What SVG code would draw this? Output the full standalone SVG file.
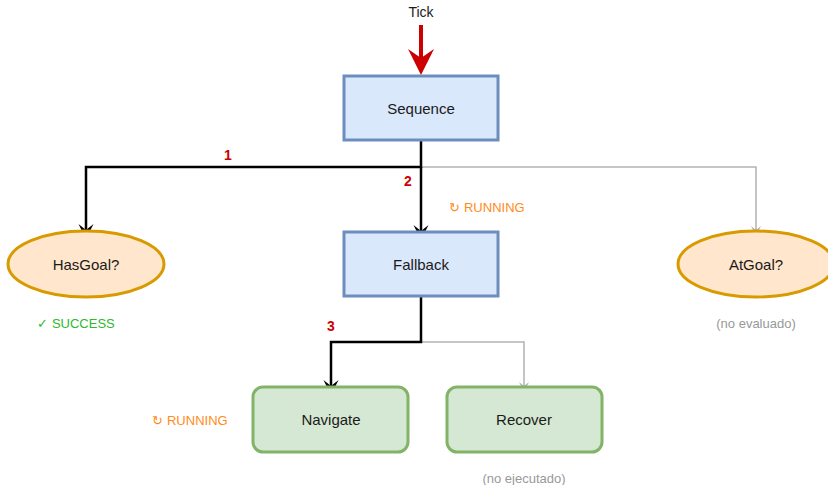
<svg xmlns="http://www.w3.org/2000/svg" width="828" height="485" viewBox="0 0 828 485">
<style>
text{font-family:"Liberation Sans",Arial,sans-serif;text-anchor:middle;dominant-baseline:central}
.lbl{font-size:15px;fill:#1a1a1a}
.blue{fill:#dae8fc;stroke:#6c8ebf;stroke-width:3}
.orange{fill:#ffe6cc;stroke:#d79b00;stroke-width:3}
.green{fill:#d5e8d4;stroke:#82b366;stroke-width:3}
.act{fill:none;stroke:#000;stroke-width:2.5;marker-end:url(#ab)}
.idle{fill:none;stroke:#b3b3b3;stroke-width:1.5;marker-end:url(#ag)}
.num{font-size:14px;font-weight:bold;fill:#cc0000}
.run{font-size:13px;fill:#ff8c1a}
.ok{font-size:13px;fill:#2eb82e}
.gray{font-size:13px;fill:#999}
</style>
<defs>
<marker id="ab" markerUnits="userSpaceOnUse" markerWidth="16" markerHeight="16" viewBox="-16 -8 16 16" refX="-9" refY="0" orient="auto" overflow="visible">
<path d="M0,0 L-15,-7.5 L-9,0 L-15,7.5 Z" fill="#000"/>
</marker>
<marker id="ag" markerUnits="userSpaceOnUse" markerWidth="12" markerHeight="12" viewBox="-12 -6 12 12" refX="-6" refY="0" orient="auto" overflow="visible">
<path d="M0,0 L-10,-5 L-6,0 L-10,5 Z" fill="#b3b3b3"/>
</marker>
</defs>
<g id="connectors">
<text x="421" y="12" class="lbl" style="font-size:14px">Tick</text>
<line x1="421" y1="25" x2="421" y2="60" stroke="#cc0000" stroke-width="4"/>
<path d="M421,75 L408,49 L421,58 L434,49 Z" fill="#cc0000"/>
<path class="idle" d="M421,167 H756 V230"/>
<path class="act" d="M421,141 V167 H86 V230"/>
<path class="act" d="M421,167 V231"/>
<path class="idle" d="M421,342 H524 V386"/>
<path class="act" d="M421,297 V342 H331 V386"/>
<text x="228" y="155" class="num">1</text>
<text x="408" y="181" class="num">2</text>
<text x="331" y="326" class="num">3</text>
</g>
<g id="sequence">
<rect x="344" y="76" width="154" height="64" class="blue"/>
<text x="421" y="108" class="lbl">Sequence</text>
</g>
<g id="hasgoal">
<ellipse cx="86" cy="264" rx="78" ry="33" class="orange"/>
<text x="86" y="264" class="lbl">HasGoal?</text>
<text x="76" y="323" class="ok">✓ SUCCESS</text>
</g>
<g id="fallback">
<rect x="344" y="232" width="154" height="64" class="blue"/>
<text x="421" y="264" class="lbl">Fallback</text>
<text x="487" y="207" class="run">↻ RUNNING</text>
</g>
<g id="atgoal">
<ellipse cx="756" cy="264" rx="78" ry="33" class="orange"/>
<text x="756" y="264" class="lbl">AtGoal?</text>
<text x="756" y="323" class="gray">(no evaluado)</text>
</g>
<g id="navigate">
<rect x="253" y="387" width="155" height="65" rx="10" class="green"/>
<text x="331" y="419" class="lbl">Navigate</text>
<text x="190" y="420" class="run">↻ RUNNING</text>
</g>
<g id="recover">
<rect x="447" y="387" width="155" height="65" rx="10" class="green"/>
<text x="524" y="419" class="lbl">Recover</text>
<text x="524" y="478" class="gray">(no ejecutado)</text>
</g>
</svg>
